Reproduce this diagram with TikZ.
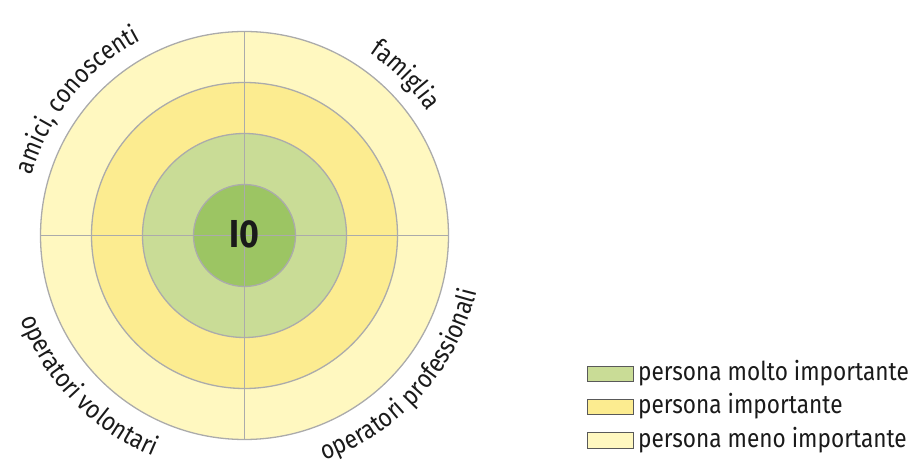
\documentclass[tikz,border=0pt]{standalone}
\usepackage{fontspec}
\setmainfont{Fira Sans}[FakeStretch=0.87]
\usetikzlibrary{decorations.text,calc}
\definecolor{ringA}{HTML}{FFF8C0}
\definecolor{ringB}{HTML}{FCEC90}
\definecolor{ringC}{HTML}{C9DC96}
\definecolor{ringD}{HTML}{9CC563}
\definecolor{lineg}{HTML}{ABABAB}
\definecolor{txt}{HTML}{1A1A1A}
\begin{document}
\begin{tikzpicture}[x=1pt,y=1pt,
  ring/.style={draw=lineg,line width=1.3pt},
  legbox/.style={draw=black!65,line width=0.9pt,minimum width=46pt,minimum height=15.5pt,inner sep=0pt},
  legtext/.style={anchor=base west,inner sep=0pt,text=txt,font=\fontsize{26}{30}\selectfont},
  arclabel/.style={decorate,decoration={text along path,text align=center,text color=txt,
     text={|\fontsize{26}{30}\selectfont|#1}}}]
\useasboundingbox (0,0) rectangle (915,460);
\coordinate (c) at (244.5,224.5);
% rings
\fill[ringA] (c) circle (204);
\fill[ringB] (c) circle (153);
\fill[ringC] (c) circle (102);
\fill[ringD] (c) circle (51);
\draw[ring] (c) circle (204);
\draw[ring] (c) circle (153);
\draw[ring] (c) circle (102);
\draw[ring] (c) circle (51);
% cross
\coordinate (n) at ($(c)+(0,204)$);
\coordinate (s) at ($(c)+(0,-204)$);
\coordinate (w) at ($(c)+(-204,0)$);
\coordinate (e) at ($(c)+(204,0)$);
\draw[ring] (n) -- (s);
\draw[ring] (w) -- (e);
\node[font=\bfseries\fontsize{39}{40}\selectfont,text=txt] (io) at (244.5,226) {I0};
% labels along arcs
\path[arclabel={amici, conoscenti}] ($(c)+(180:221)$) arc[start angle=180,end angle=102,radius=221];
\path[arclabel={famiglia}] ($(c)+(85:221)$) arc[start angle=85,end angle=5,radius=221];
\path[arclabel={operatori volontari}] ($(c)+(180:239)$) arc[start angle=180,end angle=268,radius=239];
\path[arclabel={operatori professionali}] ($(c)+(272:239)$) arc[start angle=272,end angle=364,radius=239];
% legend
\node[legbox,fill=ringC] (k1) at (610,86.1) {};
\node[legbox,fill=ringB] (k2) at (610,52.8) {};
\node[legbox,fill=ringA] (k3) at (610,19.5) {};
\node[legtext] (t1) at (638,79.3) {persona molto importante};
\node[legtext] (t2) at (638,46.0) {persona importante};
\node[legtext] (t3) at (638,12.7) {persona meno importante};
\end{tikzpicture}
\end{document}
